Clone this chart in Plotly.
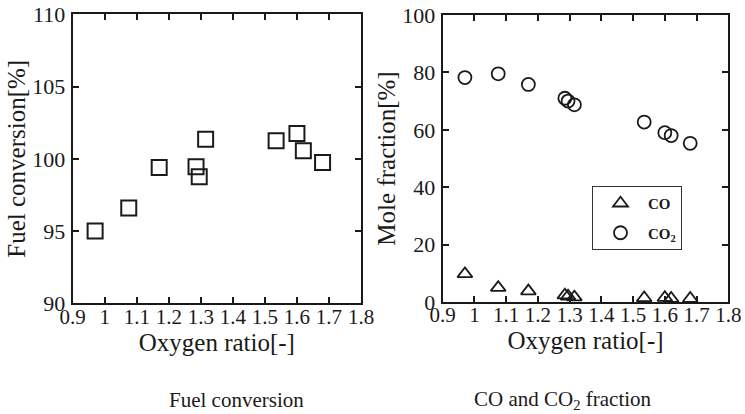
import plotly.graph_objects as go

oxygen_ratio = [0.97, 1.075, 1.17, 1.285, 1.295, 1.315, 1.535, 1.60, 1.62, 1.68]
fuel_conversion = [95.0, 96.6, 99.4, 99.45, 98.75, 101.35, 101.25, 101.75, 100.55, 99.75]
co_fraction = [9.8, 5.0, 3.8, 2.4, 2.0, 1.7, 1.4, 1.5, 1.2, 1.2]
co2_fraction = [78.2, 79.5, 75.8, 71.0, 70.0, 68.7, 62.7, 59.0, 58.0, 55.3]

x_ticks = [0.9, 1.0, 1.1, 1.2, 1.3, 1.4, 1.5, 1.6, 1.7, 1.8]
x_tick_text = ["0.9", "1", "1.1", "1.2", "1.3", "1.4", "1.5", "1.6", "1.7", "1.8"]

SERIF = "Liberation Serif, Times New Roman, serif"
INK = "#1a1a1a"

fig = go.Figure()

fig.add_trace(go.Scatter(
    x=oxygen_ratio, y=fuel_conversion, mode="markers", showlegend=False,
    marker=dict(symbol="square-open", size=15, color=INK, line=dict(width=2, color=INK)),
    xaxis="x", yaxis="y"))

fig.add_trace(go.Scatter(
    x=oxygen_ratio, y=co_fraction, mode="markers", name="<b>CO</b>", legendgroup="co",
    marker=dict(symbol="triangle-up-open", size=13, color=INK, line=dict(width=1.8, color=INK)),
    xaxis="x2", yaxis="y2"))
fig.add_trace(go.Scatter(
    x=oxygen_ratio, y=co2_fraction, mode="markers", name="<b>CO<sub>2</sub></b>", legendgroup="co2",
    marker=dict(symbol="circle-open", size=13, color=INK, line=dict(width=1.8, color=INK)),
    xaxis="x2", yaxis="y2"))

W, H = 745, 414
def px_x(p): return p / W
def px_y(p): return 1 - p / H

axis_common = dict(
    showline=True, linecolor=INK, linewidth=2, mirror="ticks",
    ticks="inside", ticklen=6, tickwidth=1.5, tickcolor=INK,
    showgrid=False, zeroline=False, automargin=False,
)

xaxis_common = dict(axis_common, range=[0.9, 1.8], tickvals=x_ticks, ticktext=x_tick_text,
                    tickfont=dict(family=SERIF, size=21, color=INK), ticklabelstandoff=-7,
                    title=dict(text="Oxygen ratio[-]", font=dict(family=SERIF, size=25, color=INK), standoff=2))

yfont = dict(family=SERIF, size=22, color=INK)

fig.update_layout(
    width=W, height=H,
    margin=dict(l=0, r=0, t=0, b=0, autoexpand=False),
    font=dict(family=SERIF, color=INK),
    paper_bgcolor="white", plot_bgcolor="white",
    xaxis=dict(xaxis_common, domain=[px_x(72.7), px_x(361)], anchor="y"),
    yaxis=dict(axis_common, domain=[px_y(303.3), px_y(14.3)], anchor="x",
               range=[90, 110], tickvals=[90, 95, 100, 105, 110], tickfont=yfont, ticklabelstandoff=1,
               title=dict(text="Fuel conversion[%]", font=dict(family=SERIF, size=25, color=INK), standoff=0)),
    xaxis2=dict(xaxis_common, domain=[px_x(442.7), px_x(728.3)], anchor="y2"),
    yaxis2=dict(axis_common, domain=[px_y(302), px_y(15)], anchor="x2",
                range=[0, 100], tickvals=[0, 20, 40, 60, 80, 100], tickfont=yfont, ticklabelstandoff=1,
                title=dict(text="Mole fraction[%]", font=dict(family=SERIF, size=25, color=INK), standoff=0)),
    legend=dict(x=px_x(592), y=px_y(186), xanchor="left", yanchor="top",
                bordercolor="#333", borderwidth=1, bgcolor="white",
                font=dict(family=SERIF, size=15, color=INK),
                tracegroupgap=7, itemwidth=45),
    annotations=[
        dict(text="Fuel conversion", x=px_x(236), y=px_y(400), xref="paper", yref="paper",
             xanchor="center", yanchor="middle",
             showarrow=False, font=dict(family=SERIF, size=21, color=INK)),
        dict(text="CO and CO<sub>2</sub> fraction", x=px_x(563), y=px_y(400), xref="paper", yref="paper",
             xanchor="center", yanchor="middle",
             showarrow=False, font=dict(family=SERIF, size=21, color=INK)),
    ],
)

fig.write_html("out.html")
